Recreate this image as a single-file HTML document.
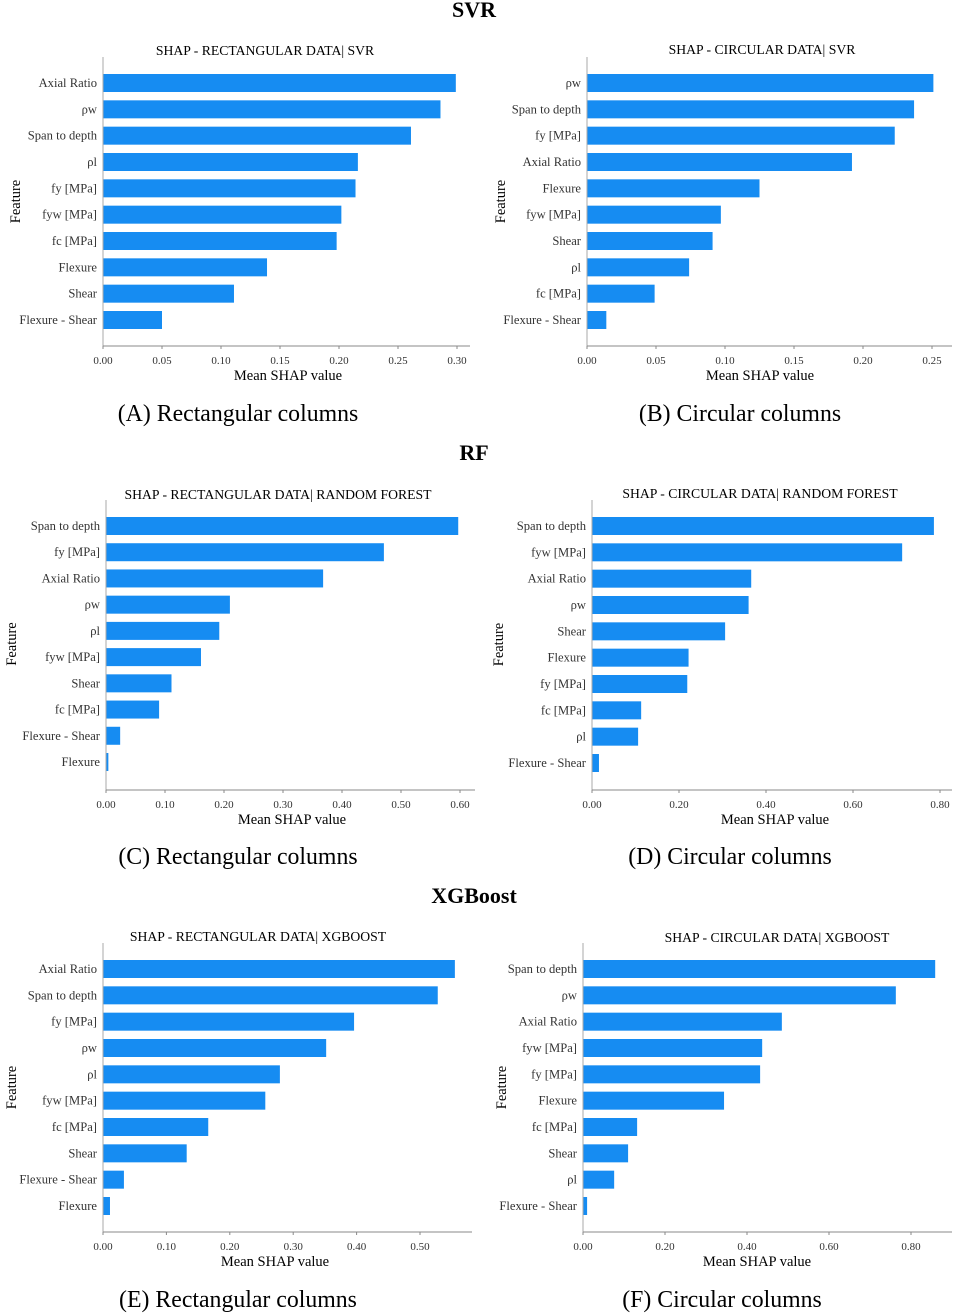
<!DOCTYPE html>
<html><head><meta charset="utf-8">
<style>
html,body{margin:0;padding:0;background:#fff;}
svg{display:block;font-family:"Liberation Serif",serif;}
</style></head>
<body>
<svg id="fig" width="955" height="1314" viewBox="0 0 955 1314" xmlns="http://www.w3.org/2000/svg">
<text x="474" y="17" text-anchor="middle" font-size="22" font-weight="bold">SVR</text>
<text x="474" y="460" text-anchor="middle" font-size="22" font-weight="bold">RF</text>
<text x="474" y="903" text-anchor="middle" font-size="22" font-weight="bold">XGBoost</text>
</svg>
<script>
// Panel A: SVR rectangular
const catsA = ["Axial Ratio","ρw","Span to depth","ρl","fy [MPa]","fyw [MPa]","fc [MPa]","Flexure","Shear","Flexure - Shear"];
const valsA = [0.299,0.286,0.261,0.216,0.214,0.202,0.198,0.139,0.111,0.050];
const ticksA = ["0.00","0.05","0.10","0.15","0.20","0.25","0.30"];
// Panel B: SVR circular
const catsB = ["ρw","Span to depth","fy [MPa]","Axial Ratio","Flexure","fyw [MPa]","Shear","ρl","fc [MPa]","Flexure - Shear"];
const valsB = [0.251,0.237,0.223,0.192,0.125,0.097,0.091,0.074,0.049,0.014];
const ticksB = ["0.00","0.05","0.10","0.15","0.20","0.25"];
// Panel C: RF rectangular
const catsC = ["Span to depth","fy [MPa]","Axial Ratio","ρw","ρl","fyw [MPa]","Shear","fc [MPa]","Flexure - Shear","Flexure"];
const valsC = [0.597,0.471,0.368,0.210,0.192,0.161,0.111,0.090,0.024,0.004];
const ticksC = ["0.00","0.10","0.20","0.30","0.40","0.50","0.60"];
// Panel D: RF circular
const catsD = ["Span to depth","fyw [MPa]","Axial Ratio","ρw","Shear","Flexure","fy [MPa]","fc [MPa]","ρl","Flexure - Shear"];
const valsD = [0.786,0.713,0.366,0.360,0.306,0.222,0.219,0.113,0.106,0.016];
const ticksD = ["0.00","0.20","0.40","0.60","0.80"];
// Panel E: XGBoost rectangular
const catsE = ["Axial Ratio","Span to depth","fy [MPa]","ρw","ρl","fyw [MPa]","fc [MPa]","Shear","Flexure - Shear","Flexure"];
const valsE = [0.555,0.528,0.396,0.352,0.279,0.256,0.166,0.132,0.033,0.011];
const ticksE = ["0.00","0.10","0.20","0.30","0.40","0.50"];
// Panel F: XGBoost circular
const catsF = ["Span to depth","ρw","Axial Ratio","fyw [MPa]","fy [MPa]","Flexure","fc [MPa]","Shear","ρl","Flexure - Shear"];
const valsF = [0.859,0.763,0.485,0.437,0.432,0.344,0.132,0.110,0.076,0.010];
const ticksF = ["0.00","0.20","0.40","0.60","0.80"];

const NS = "http://www.w3.org/2000/svg";
const svg = document.getElementById("fig");
function mk(tag, attrs, parent, text){
  const e = document.createElementNS(NS, tag);
  for (const k in attrs) e.setAttribute(k, attrs[k]);
  if (text !== undefined) e.textContent = text;
  (parent || svg).appendChild(e);
  return e;
}
function panel(id, title, caption, cats, vals, ticks, L){
  const g = mk("g", {});
  
  
  const x0 = L.ax, k = (L.tmaxX - L.ax) / parseFloat(ticks[ticks.length-1]);
  const xs = v => x0 + v * k;
  const ys = i => L.c0 + i * (L.c9 - L.c0) / (cats.length - 1);
  const t = mk("text", {x: L.tx, y: L.ty, "text-anchor": "middle", "font-size": 13.7}, g, title);
  
  
  cats.forEach((c, i) => {
    const r = mk("rect", {x: x0, y: ys(i) - 9, width: Math.max(0, xs(vals[i]) - x0), height: 18, fill: "#168cf2"}, g);
    
    
    const lb = mk("text", {x: x0 - 6, y: ys(i) + 4, "text-anchor": "end", "font-size": 12.6, fill: "#333"}, g, c);
    
    
  });
  const ya = mk("line", {x1: x0, y1: L.top, x2: x0, y2: L.axY, stroke: "#aaa", "stroke-width": 1}, g);
  
  
  const xa = mk("line", {x1: x0, y1: L.axY, x2: L.right, y2: L.axY, stroke: "#888", "stroke-width": 1}, g);
  
  
  ticks.forEach((tk, i) => {
    const x = xs(parseFloat(tk));
    mk("line", {x1: x, y1: L.axY, x2: x, y2: L.axY + 3, stroke: "#888"}, g);
    const tl = mk("text", {x: x, y: L.axY + 18, "text-anchor": "middle", "font-size": 11, fill: "#333"}, g, tk);
    
    
  });
  const xt = mk("text", {x: L.xtX, y: L.axY + 34, "text-anchor": "middle", "font-size": 14.5}, g, "Mean SHAP value");
  
  
  const fy = (L.c0 + L.c9) / 2;
  const ft = mk("text", {x: L.fx, y: fy, "text-anchor": "middle", "font-size": 14.5, transform: "rotate(-90 " + L.fx + " " + fy + ")"}, g, "Feature");
  
  
  const cp = mk("text", {x: L.capX, y: L.capY, "text-anchor": "middle", "font-size": 23.8}, g, caption);
  
  
}
panel("a","SHAP - RECTANGULAR DATA| SVR","(A) Rectangular columns",catsA,valsA,ticksA,
  {ax:103,tmaxX:457,c0:83,c9:320,top:57,axY:346,right:470,tx:265,ty:55,xtX:288,fx:20,capX:238,capY:421});
panel("b","SHAP - CIRCULAR DATA| SVR","(B) Circular columns",catsB,valsB,ticksB,
  {ax:587,tmaxX:932,c0:83,c9:320,top:57,axY:346,right:952,tx:762,ty:54,xtX:760,fx:505,capX:740,capY:421});
panel("c","SHAP - RECTANGULAR DATA| RANDOM FOREST","(C) Rectangular columns",catsC,valsC,ticksC,
  {ax:106,tmaxX:460,c0:526,c9:762,top:500,axY:790,right:475,tx:278,ty:499,xtX:292,fx:16,capX:238,capY:864});
panel("d","SHAP - CIRCULAR DATA| RANDOM FOREST","(D) Circular columns",catsD,valsD,ticksD,
  {ax:592,tmaxX:940,c0:526,c9:763,top:500,axY:790,right:952,tx:760,ty:498,xtX:775,fx:503,capX:730,capY:864});
panel("e","SHAP - RECTANGULAR DATA| XGBOOST","(E) Rectangular columns",catsE,valsE,ticksE,
  {ax:103,tmaxX:420,c0:969,c9:1206,top:943,axY:1232,right:472,tx:258,ty:941,xtX:275,fx:16,capX:238,capY:1307});
panel("f","SHAP - CIRCULAR DATA| XGBOOST","(F) Circular columns",catsF,valsF,ticksF,
  {ax:583,tmaxX:911,c0:969,c9:1206,top:943,axY:1232,right:952,tx:777,ty:942,xtX:757,fx:506,capX:722,capY:1307});
</script>
</body></html>
